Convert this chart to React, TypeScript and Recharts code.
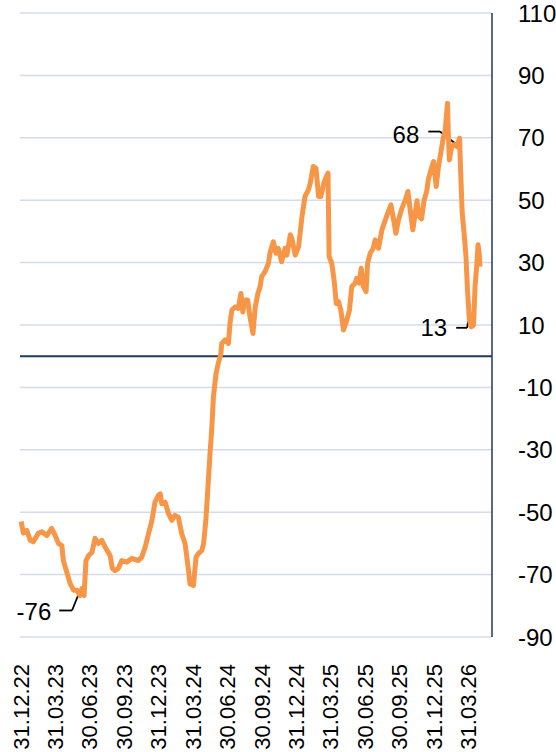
import React from 'react';
import { LineChart, Line, XAxis, YAxis, CartesianGrid, ReferenceLine, ReferenceDot } from 'recharts';

// x-axis categories: quarter ends, as day offsets from 31.12.22
const quarterLabels = ['31.12.22', '31.03.23', '30.06.23', '30.09.23', '31.12.23', '31.03.24', '30.06.24', '30.09.24', '31.12.24', '31.03.25', '30.06.25', '30.09.25', '31.12.25', '31.03.26'];
const quarterDays = [0, 90, 181, 273, 365, 456, 547, 639, 731, 821, 912, 1004, 1096, 1186];

// y-axis ticks
const yTicks = [-90, -70, -50, -30, -10, 10, 30, 50, 70, 90, 110];

// series: day offset from 31.12.22 and value
const dayOffsets = [0, 6, 15, 24, 32, 46, 55, 68, 81, 90, 99, 108, 112, 121, 130, 139, 148, 156, 161, 167, 172, 179, 188, 196, 205, 214, 223, 236, 242, 249, 258, 267, 280, 294, 311, 320, 329, 338, 347, 355, 364, 369, 373, 382, 391, 400, 408, 417, 426, 435, 444, 448, 457, 464, 470, 479, 484, 490, 495, 501, 506, 510, 517, 523, 530, 532, 541, 550, 554, 559, 568, 576, 583, 588, 594, 601, 607, 615, 621, 628, 634, 638, 647, 656, 660, 669, 676, 682, 691, 700, 705, 714, 718, 727, 736, 740, 745, 753, 762, 767, 775, 782, 789, 795, 804, 814, 817, 824, 830, 836, 842, 848, 855, 864, 871, 877, 886, 890, 897, 902, 908, 915, 919, 926, 934, 939, 948, 957, 966, 974, 981, 988, 994, 1001, 1010, 1019, 1026, 1032, 1039, 1042, 1050, 1055, 1062, 1069, 1076, 1080, 1087, 1094, 1101, 1107, 1113, 1119, 1125, 1131, 1133, 1136, 1142, 1149, 1156, 1163, 1166, 1170, 1175, 1180, 1184, 1189, 1194, 1200, 1204, 1209, 1212, 1215, 1217];
const seriesValues = [-53, -56.7, -55.8, -59, -59.5, -56.7, -56.3, -57.5, -55.2, -57.4, -60, -60.7, -65.5, -69.2, -72.9, -75, -75, -76.7, -74.5, -76.7, -65.5, -63.9, -62.8, -58.4, -60, -59, -61.2, -63.9, -68, -68.7, -68, -65.5, -66, -64.8, -65.5, -64.4, -61.2, -56.9, -52.6, -46.8, -44.6, -44.1, -47.3, -46.8, -50.5, -52.6, -51, -51.6, -56.9, -60.1, -68.7, -73, -73.5, -64.4, -63.3, -62.3, -60.1, -52.6, -43, -31.3, -22.7, -13.1, -5.6, -2.3, 0.9, 4.1, 5.2, 4.1, 10.5, 14.8, 15.8, 15.3, 20.1, 14.2, 18, 18, 12.6, 7.3, 15.8, 20.1, 22.3, 25.5, 27.1, 29.8, 33, 36.7, 33, 34.6, 30.3, 34.6, 32.4, 38.9, 37.8, 32.4, 35.1, 39.4, 44.7, 51.2, 53.3, 55.5, 60.8, 60.3, 51.2, 51.2, 56, 58.7, 31.9, 29.8, 24.5, 16.9, 17.5, 14.8, 8.4, 11.6, 14.8, 22.3, 23.4, 25, 23.4, 28.2, 22.3, 20.7, 29.8, 33, 34.6, 37.3, 34.6, 40.5, 43.7, 46.3, 48.5, 43.7, 39.4, 43.7, 47.4, 50.1, 52.8, 46.9, 40.5, 43, 49.8, 45, 44, 50, 53, 56.5, 59.7, 62.4, 54.4, 60.8, 65.1, 69.4, 72.6, 81.1, 71.5, 62.9, 67.2, 67.8, 67.2, 69.9, 58.7, 45.9, 39.4, 31.9, 21.2, 11.6, 9.4, 10, 22.3, 29.8, 35.7, 33, 28.7];

// annotations: text, text anchor (day, value), leader polyline points (day, value)
const annotationTexts = ['-76', '68', '13'];
const annotationAnchors = [[80, -81.8], [1056, 71.1], [1130, 9.2]];
const annotationLeaders = [
  [[101, -81.5], [135, -81.5], [151, -76.7]],
  [[1080, 72], [1111, 72], [1156, 67.8]],
  [[1154, 9.1], [1183, 9.1], [1188, 13.2]],
];

const data = dayOffsets.map((d, i) => ({ day: d, value: seriesValues[i] }));

const FONT = '"Liberation Sans", Arial, sans-serif';
const FS = 24;
const XFS = 22;

const labelFor = (d: number) => {
  const i = quarterDays.indexOf(d);
  return i >= 0 ? quarterLabels[i] : '';
};

const XTick = (props: any) => {
  const { x, y, payload } = props;
  return (
    <g transform={`translate(${x},${y + 27})`}>
      <text transform="rotate(-90)" textAnchor="end" dy="0.35em" fontSize={XFS} fontFamily={FONT} fill="#000">
        {labelFor(payload.value)}
      </text>
    </g>
  );
};

export default function App() {
  return (
    <div style={{ position: 'absolute', left: 0, top: 0 }}>
      <LineChart width={556} height={752} data={data} margin={{ top: 13, right: 0, bottom: 0, left: 20 }}>
        <CartesianGrid horizontal vertical={false} stroke="#D3DCEA" strokeWidth={1.5} />
        <XAxis
          dataKey="day"
          type="number"
          domain={[-3, 1249]}
          ticks={quarterDays}
          interval={0}
          axisLine={false}
          tickLine={false}
          tickSize={0}
          tickMargin={0}
          height={115}
          tick={<XTick />}
        />
        <YAxis
          orientation="right"
          domain={[-90, 110]}
          ticks={yTicks}
          interval={0}
          width={64}
          axisLine={{ stroke: '#203864', strokeWidth: 1.5 }}
          tickLine={false}
          tickSize={0}
          tickMargin={26}
          tick={{ fontSize: FS, fontFamily: FONT, fill: '#000' }}
        />
        <ReferenceLine y={0} stroke="#1F3864" strokeWidth={2} />
        {annotationLeaders.map((pts, i) =>
          pts.slice(1).map((p, j) => (
            <ReferenceLine
              key={`l${i}-${j}`}
              segment={[{ x: pts[j][0], y: pts[j][1] }, { x: p[0], y: p[1] }]}
              stroke="#000"
              strokeWidth={1.8}
            />
          ))
        )}
        <Line
          type="linear"
          dataKey="value"
          stroke="#F79646"
          strokeWidth={5}
          dot={false}
          strokeLinejoin="round"
          isAnimationActive={false}
        />
        {annotationTexts.map((t, i) => (
          <ReferenceDot
            key={`a${i}`}
            x={annotationAnchors[i][0]}
            y={annotationAnchors[i][1]}
            r={0}
            shape={(p: any) => (
              <text x={p.cx} y={p.cy} textAnchor="end" dominantBaseline="central" fontSize={FS} fontFamily={FONT} fill="#000">
                {t}
              </text>
            )}
          />
        ))}
      </LineChart>
    </div>
  );
}
